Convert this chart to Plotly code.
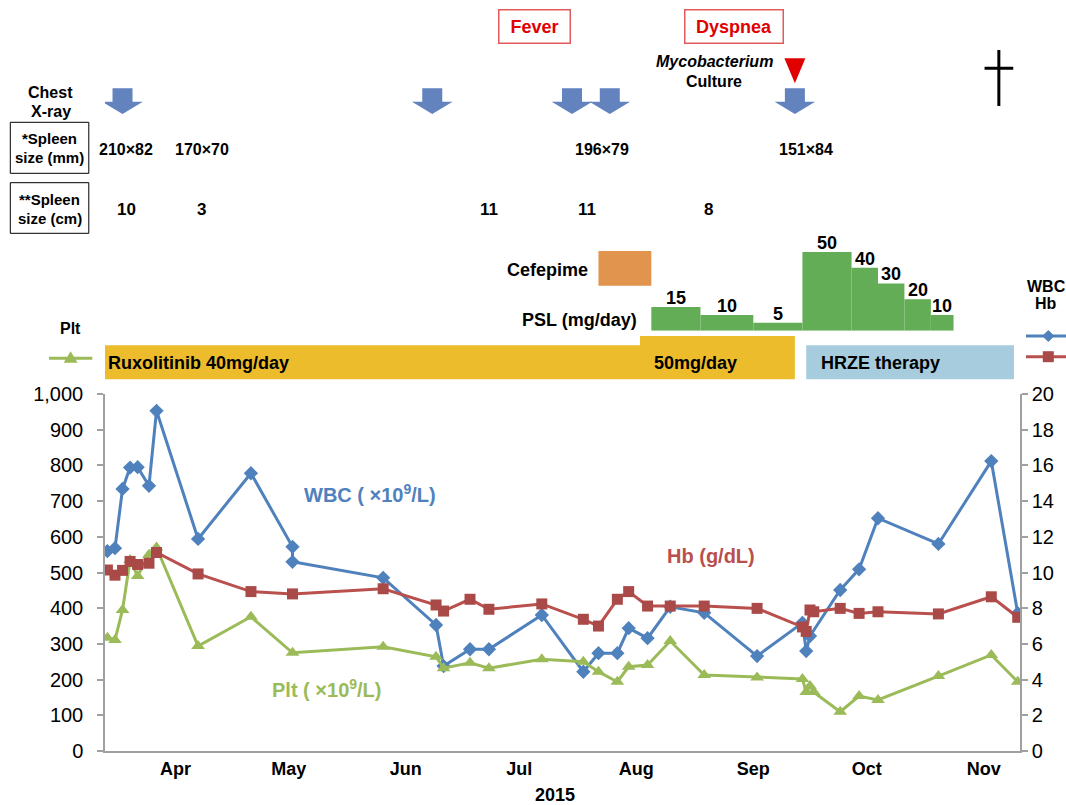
import plotly.graph_objects as go
import pandas as pd

FONT = "Liberation Sans, Arial, sans-serif"

# ------------------------------------------------------------------ data
lab_dates = ["2015-03-14", "2015-03-16", "2015-03-18", "2015-03-20", "2015-03-22", "2015-03-25", "2015-03-27",
             "2015-04-07", "2015-04-21", "2015-05-02", "2015-05-26",
             "2015-06-09", "2015-06-11", "2015-06-18", "2015-06-23",
             "2015-07-07", "2015-07-18", "2015-07-22", "2015-07-27", "2015-07-30",
             "2015-08-04", "2015-08-10", "2015-08-19", "2015-09-02",
             "2015-09-14", "2015-09-15", "2015-09-16", "2015-09-17",
             "2015-09-24", "2015-09-29", "2015-10-04", "2015-10-20", "2015-11-03", "2015-11-10"]
hb_values = [10.14, 9.85, 10.12, 10.62, 10.45, 10.52, 11.12,
             9.92, 8.93, 8.80, 9.09,
             8.18, 7.84, 8.50, 7.94,
             8.24, 7.38, 7.00, 8.50, 8.93,
             8.12, 8.12, 8.12, 7.99,
             6.95, 6.70, 7.90, 7.80,
             7.99, 7.71, 7.80, 7.68, 8.64, 7.49]
plt_values = [317, 311, 395, 535, 490, 550, 570,
              294, 376, 275, 292,
              264, 232, 247, 232,
              257, 250, 222, 194, 236,
              241, 308, 213, 206,
              202, 165, 182, 165,
              110, 154, 143, 210, 269, 194]

wbc_dates = ["2015-03-14", "2015-03-16", "2015-03-18", "2015-03-20", "2015-03-22", "2015-03-25", "2015-03-27",
             "2015-04-07", "2015-04-21", "2015-05-02", "2015-05-02", "2015-05-26",
             "2015-06-09", "2015-06-11", "2015-06-18", "2015-06-23",
             "2015-07-07", "2015-07-18", "2015-07-22", "2015-07-27", "2015-07-30",
             "2015-08-04", "2015-08-10", "2015-08-19", "2015-09-02",
             "2015-09-14", "2015-09-15", "2015-09-16",
             "2015-09-24", "2015-09-29", "2015-10-04", "2015-10-20", "2015-11-03", "2015-11-10"]
wbc_values = [560, 568, 734, 794, 795, 743, 953,
              594, 778, 572, 530, 485,
              353, 238, 285, 285,
              381, 222, 274, 274, 344,
              316, 404, 387, 266,
              359, 280, 322,
              451, 509, 652, 580, 812, 386]

month_ticks = ["2015-04-01", "2015-05-01", "2015-06-01", "2015-07-01",
               "2015-08-01", "2015-09-01", "2015-10-01", "2015-11-01"]
month_labels = ["Apr", "May", "Jun", "Jul", "Aug", "Sep", "Oct", "Nov"]
x_range = ["2015-03-13 08:38", "2015-11-10 14:24"]

xray_dates = ["2015-03-18", "2015-06-08", "2015-07-15", "2015-07-25", "2015-09-12"]
culture_date = "2015-09-12"
death_date = "2015-11-05"
fever_date = "2015-07-05"
dyspnea_date = "2015-08-27"

spleen_mm_dates = ["2015-03-19", "2015-04-08", "2015-07-23", "2015-09-15"]
spleen_mm_labels = ["210×82", "170×70", "196×79", "151×84"]
spleen_cm_dates = ["2015-03-19", "2015-04-08", "2015-06-23", "2015-07-19", "2015-08-20"]
spleen_cm_values = [10, 3, 11, 11, 8]

psl_start = ["2015-08-05", "2015-08-18", "2015-09-01", "2015-09-14",
             "2015-09-27", "2015-10-04", "2015-10-11", "2015-10-18"]
psl_end = ["2015-08-18", "2015-09-01", "2015-09-14", "2015-09-27",
           "2015-10-04", "2015-10-11", "2015-10-18", "2015-10-24"]
psl_dose = [15, 10, 5, 50, 40, 30, 20, 10]

cefepime_period = ["2015-07-22", "2015-08-05"]
ruxo_start = ["2015-03-01", "2015-08-02"]
ruxo_end = ["2015-08-02", "2015-09-12"]
ruxo_labels = ["Ruxolitinib 40mg/day", "50mg/day"]
hrze_period = ["2015-09-15", "2015-11-09"]

# ------------------------------------------------------------------ layout helpers
W, H = 1066, 805
ML, MR, MT, MB = 105, 46, 0, 54
PW = W - ML - MR
PH = H - MT - MB


def xp(px):
    return (px - ML) / PW


def yp(py):
    return (H - MB - py) / PH


WBC_C = "#4F81BD"
HB_C = "#B9504D"
HB_M = "#A94A48"
PLT_C = "#9BBB59"
ARROW_C = "#6283BE"
RED = "#E00000"
AX_C = "#A0A0A0"
GOLD = "#ECBC2C"
HRZE_C = "#A6CCDD"
CEF_C = "#E0944E"
PSL_C = "#62AD55"

fig = go.Figure()

fig.add_trace(go.Scatter(x=wbc_dates, y=wbc_values, mode="lines+markers", yaxis="y",
                         line=dict(color=WBC_C, width=3),
                         marker=dict(symbol="diamond", size=11, color=WBC_C)))
fig.add_trace(go.Scatter(x=lab_dates, y=plt_values, mode="lines+markers", yaxis="y",
                         line=dict(color=PLT_C, width=3),
                         marker=dict(symbol="triangle-up", size=12, color=PLT_C)))
fig.add_trace(go.Scatter(x=lab_dates, y=hb_values, mode="lines+markers", yaxis="y2",
                         line=dict(color=HB_C, width=3),
                         marker=dict(symbol="square", size=11, color=HB_M)))

# PSL step bars
ps = pd.to_datetime(pd.Series(psl_start))
pe = pd.to_datetime(pd.Series(psl_end))
mid = ps + (pe - ps) / 2
widths = [(b - a).total_seconds() * 1000 for a, b in zip(ps, pe)]
fig.add_trace(go.Bar(x=mid, y=psl_dose, width=widths, yaxis="y3",
                     marker=dict(color=PSL_C, line=dict(width=0))))

shapes = []
annotations = []


def text(t, px, py, size=16, color="black", xanchor="center", bold=True, italic=False):
    s = t
    if bold:
        s = "<b>" + s + "</b>"
    if italic:
        s = "<i>" + s + "</i>"
    annotations.append(dict(text=s, x=xp(px), y=yp(py), xref="paper", yref="paper",
                            xanchor=xanchor, yanchor="middle", showarrow=False,
                            font=dict(family=FONT, size=size, color=color)))


def dtext(t, d, py, size=17, color="black"):
    annotations.append(dict(text="<b>" + t + "</b>", x=d, y=yp(py), xref="x", yref="paper",
                            xanchor="center", yanchor="middle", showarrow=False,
                            font=dict(family=FONT, size=size, color=color)))


# event boxes
for lbl, d, w in [("Fever", fever_date, 68), ("Dyspnea", dyspnea_date, 95)]:
    annotations.append(dict(text="<b>" + lbl + "</b>", x=d, y=yp(26.3), xref="x", yref="paper",
                            xanchor="center", yanchor="middle", showarrow=False,
                            width=w, height=30, borderpad=1, bordercolor="#E25A5A", borderwidth=1.5,
                            font=dict(family=FONT, size=18, color=RED)))

text("Mycobacterium", 714.8, 62, 16, italic=True)
text("Culture", 714.3, 81, 16)
text("Chest", 50.5, 92, 16)
text("X-ray", 50.5, 111, 16)

# chest x-ray arrows
ARROW = "M-10,0L10,0L10,-13.4L20.3,-13.4L0,-25.7L-20.3,-13.4L-10,-13.4Z"
for d in xray_dates:
    shapes.append(dict(type="path", xref="x", yref="paper", xsizemode="pixel", ysizemode="pixel",
                       xanchor=d, yanchor=yp(88.3), path=ARROW, fillcolor=ARROW_C, line=dict(width=0)))

# culture triangle
shapes.append(dict(type="path", xref="x", yref="paper", xsizemode="pixel", ysizemode="pixel",
                   xanchor=culture_date, yanchor=yp(58.3), path="M-10.5,0L10.5,0L0,-25Z",
                   fillcolor=RED, line=dict(width=0)))
# death cross
shapes.append(dict(type="path", xref="x", yref="paper", xsizemode="pixel", ysizemode="pixel",
                   xanchor=death_date, yanchor=yp(50), path="M0,0L0,-56M-14.3,-18.3L14.4,-18.3",
                   fillcolor="rgba(0,0,0,0)", line=dict(color="black", width=3)))

# spleen boxes
for y0, y1, l1, l2, ly1, ly2 in [(122.3, 173.3, "*Spleen", "size (mm)", 138.5, 157.5),
                                   (182.7, 233.3, "**Spleen", "size (cm)", 199.5, 218.5)]:
    shapes.append(dict(type="rect", xref="paper", yref="paper", x0=xp(10.3), x1=xp(88.8),
                       y0=yp(y1), y1=yp(y0), line=dict(color="black", width=1)))
    text(l1, 49.5, ly1, 15)
    text(l2, 49.5, ly2, 15)

for d, t in zip(spleen_mm_dates, spleen_mm_labels):
    dtext(t, d, 149.5, 16)
for d, v in zip(spleen_cm_dates, spleen_cm_values):
    dtext(str(v), d, 209.5, 17)

# cefepime
shapes.append(dict(type="rect", xref="x", yref="paper", x0=cefepime_period[0], x1=cefepime_period[1],
                   y0=yp(285.7), y1=yp(251), fillcolor=CEF_C, line=dict(width=0)))
text("Cefepime", 590, 269.5, 18, xanchor="right")
text("PSL (mg/day)", 639, 319.5, 18, xanchor="right")

for m, dose in zip(mid, psl_dose):
    annotations.append(dict(text="<b>%d</b>" % dose, x=m, y=dose, xref="x", yref="y3",
                            xanchor="center", yanchor="middle", yshift=9, showarrow=False,
                            font=dict(family=FONT, size=18, color="black")))

# ruxolitinib and HRZE bars
ruxo_tops = [345.3, 336]
for s, e, top in zip(ruxo_start, ruxo_end, ruxo_tops):
    shapes.append(dict(type="rect", xref="x", yref="paper", x0=s, x1=e,
                       y0=yp(379.3), y1=yp(top), fillcolor=GOLD, line=dict(width=0), layer="below"))
text(ruxo_labels[0], 106, 363.3, 18, xanchor="left")
text(ruxo_labels[1], 651.6, 363.3, 18, xanchor="left")
shapes.append(dict(type="rect", xref="x", yref="paper", x0=hrze_period[0], x1=hrze_period[1],
                   y0=yp(379.3), y1=yp(345.3), fillcolor=HRZE_C, line=dict(width=0)))
text("HRZE therapy", 818.7, 362.7, 18, xanchor="left")

# legends (custom)
text("WBC", 1046, 286.7, 16)
text("Hb", 1046, 304, 16)
shapes.append(dict(type="line", xref="paper", yref="paper", x0=xp(1026), x1=xp(1070),
                   y0=yp(336), y1=yp(336), line=dict(color=WBC_C, width=3)))
shapes.append(dict(type="path", xref="paper", yref="paper", xsizemode="pixel", ysizemode="pixel",
                   xanchor=xp(1048.3), yanchor=yp(336), path="M-6,0L0,6L6,0L0,-6Z",
                   fillcolor=WBC_C, line=dict(width=0)))
shapes.append(dict(type="line", xref="paper", yref="paper", x0=xp(1026), x1=xp(1070),
                   y0=yp(356.7), y1=yp(356.7), line=dict(color=HB_C, width=3)))
shapes.append(dict(type="path", xref="paper", yref="paper", xsizemode="pixel", ysizemode="pixel",
                   xanchor=xp(1048.3), yanchor=yp(356.7), path="M-5.5,-5.5L5.5,-5.5L5.5,5.5L-5.5,5.5Z",
                   fillcolor=HB_M, line=dict(width=0)))
text("Plt", 70.6, 328.3, 16)
shapes.append(dict(type="line", xref="paper", yref="paper", x0=xp(49), x1=xp(92.3),
                   y0=yp(358.3), y1=yp(358.3), line=dict(color=PLT_C, width=3)))
shapes.append(dict(type="path", xref="paper", yref="paper", xsizemode="pixel", ysizemode="pixel",
                   xanchor=xp(70.6), yanchor=yp(358.3), path="M-7,-4.5L7,-4.5L0,7Z",
                   fillcolor=PLT_C, line=dict(width=0)))

# in-plot series labels
annotations.append(dict(text="<b>WBC ( ×10<sup>9</sup>/L)</b>", x="2015-05-22 12:00", y=720, xref="x", yref="y",
                        showarrow=False, font=dict(family=FONT, size=20, color=WBC_C)))
annotations.append(dict(text="<b>Hb (g/dL)</b>", x="2015-08-20 19:00", y=10.92, xref="x", yref="y2",
                        showarrow=False, font=dict(family=FONT, size=20, color=HB_C)))
annotations.append(dict(text="<b>Plt ( ×10<sup>9</sup>/L)</b>", x="2015-05-11", y=176, xref="x", yref="y",
                        showarrow=False, font=dict(family=FONT, size=20, color=PLT_C)))
# x title
text("2015", 555, 795, 18)

tickfont = dict(family=FONT, size=20, color="black")
fig.update_layout(
    width=W, height=H, autosize=False,
    margin=dict(l=ML, r=MR, t=MT, b=MB, pad=0, autoexpand=False),
    paper_bgcolor="white", plot_bgcolor="white", showlegend=False,
    xaxis=dict(type="date", range=x_range, tickvals=month_ticks, ticktext=month_labels,
               showgrid=False, zeroline=False, showline=True, linecolor=AX_C, linewidth=1.5,
               ticks="", ticklabelstandoff=1, anchor="y", automargin=False,
               tickfont=dict(family=FONT, size=18, color="black", weight="bold")),
    yaxis=dict(domain=[0, yp(394)], range=[0, 1000], dtick=100, tickformat=",",
               showgrid=False, zeroline=False, showline=True, linecolor=AX_C, linewidth=1.5,
               ticks="outside", ticklen=6, tickcolor=AX_C, tickwidth=1.5, automargin=False,
               ticklabelstandoff=10, tickfont=tickfont, anchor="x"),
    yaxis2=dict(overlaying="y", side="right", range=[0, 20], dtick=2,
                showgrid=False, zeroline=False, showline=True, linecolor=AX_C, linewidth=1.5,
                ticks="outside", ticklen=6, tickcolor=AX_C, tickwidth=1.5, automargin=False,
                ticklabelstandoff=0, tickfont=tickfont, anchor="x"),
    yaxis3=dict(domain=[yp(330.7), yp(252)], range=[0, 50], visible=False, anchor="x",
                automargin=False),
    shapes=shapes,
    annotations=annotations,
)

fig.write_html("out.html", config={"displayModeBar": False},
               post_script="document.body.style.margin='0px';document.body.style.overflow='hidden';")
